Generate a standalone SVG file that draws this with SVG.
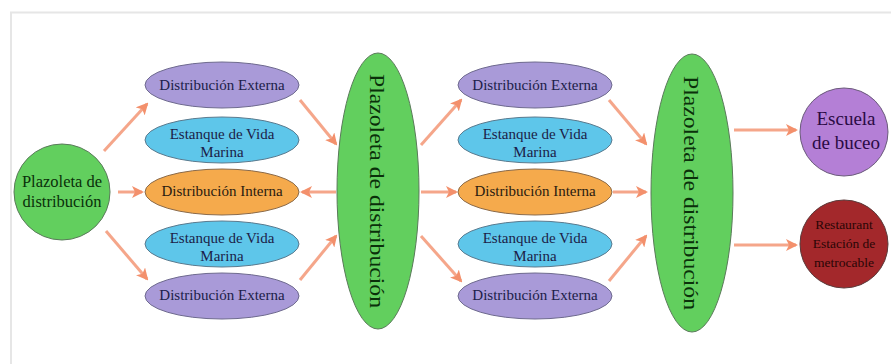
<svg xmlns="http://www.w3.org/2000/svg" width="891" height="364" viewBox="0 0 891 364">
<defs>
<marker id="ah" viewBox="0 0 12 12" refX="10" refY="6" markerWidth="12" markerHeight="12" markerUnits="userSpaceOnUse" orient="auto">
<path d="M0,0 L12,6 L0,12 L3,6 Z" fill="#f3906c"/>
</marker>
<style>
.frame{fill:none;stroke:#e6e6e6;stroke-width:2}
.con{stroke:#f5a68a;stroke-width:3;fill:none;marker-end:url(#ah)}
.t{font-family:"Liberation Serif","Times New Roman",serif;text-anchor:middle}
.pur{fill:#a99ad8;stroke:#6e6a8e;stroke-width:1}
.blu{fill:#5ec6ea;stroke:#5a7a8e;stroke-width:1}
.org{fill:#f5aa4c;stroke:#8a6a4a;stroke-width:1}
.grn{fill:#62cf5e;stroke:#5a7a5a;stroke-width:1}
.tn{fill:#1c1d48;font-size:15px}
.tb{fill:#2a1a10;font-size:15px}
.tg{fill:#0a300a}
</style>
</defs>
<rect width="891" height="364" fill="#ffffff"/>
<path class="frame" d="M11,364 V12.5 H891"/>
<g id="connectors">
<line class="con" x1="104" y1="151" x2="147" y2="104"/>
<line class="con" x1="118" y1="192" x2="142" y2="192"/>
<line class="con" x1="106" y1="231" x2="147" y2="279"/>
<line class="con" x1="300" y1="100" x2="336" y2="144"/>
<line class="con" x1="336" y1="192" x2="302" y2="192"/>
<line class="con" x1="300" y1="280" x2="336" y2="236"/>
<line class="con" x1="421" y1="145" x2="461" y2="100"/>
<line class="con" x1="421" y1="192" x2="456" y2="192"/>
<line class="con" x1="421" y1="236" x2="461" y2="281"/>
<line class="con" x1="609" y1="100" x2="646" y2="144"/>
<line class="con" x1="613" y1="192" x2="646" y2="192"/>
<line class="con" x1="609" y1="281" x2="646" y2="236"/>
<line class="con" x1="734" y1="130" x2="796" y2="130"/>
<line class="con" x1="734" y1="245" x2="796" y2="245"/>
</g>
<g id="n_plazoleta_izq">
<circle class="grn" cx="62" cy="192" r="48"/>
<text class="t tg" x="62" y="187" font-size="16.5">Plazoleta de</text>
<text class="t tg" x="62" y="207" font-size="16.5">distribución</text>
</g>
<g id="n_ext1">
<ellipse class="pur" cx="222" cy="85" rx="77" ry="23"/>
<text class="t tn" x="222" y="90">Distribución Externa</text>
</g>
<g id="n_est1">
<ellipse class="blu" cx="222" cy="140" rx="77" ry="23"/>
<text class="t tn" x="222" y="139">Estanque de Vida</text>
<text class="t tn" x="222" y="157">Marina</text>
</g>
<g id="n_int1">
<ellipse class="org" cx="222" cy="192" rx="77" ry="23"/>
<text class="t tb" x="222" y="196">Distribución Interna</text>
</g>
<g id="n_est2">
<ellipse class="blu" cx="222" cy="244" rx="77" ry="23"/>
<text class="t tn" x="222" y="243">Estanque de Vida</text>
<text class="t tn" x="222" y="261">Marina</text>
</g>
<g id="n_ext2">
<ellipse class="pur" cx="222" cy="296" rx="77" ry="23"/>
<text class="t tn" x="222" y="300">Distribución Externa</text>
</g>
<g id="n_plazoleta_centro">
<ellipse class="grn" cx="378" cy="191" rx="41" ry="138"/>
<text class="t tg" transform="translate(378,191) rotate(90)" x="0" y="8" font-size="22" textLength="234" lengthAdjust="spacingAndGlyphs">Plazoleta de distribución</text>
</g>
<g id="n_ext3">
<ellipse class="pur" cx="535" cy="85" rx="77" ry="23"/>
<text class="t tn" x="535" y="90">Distribución Externa</text>
</g>
<g id="n_est3">
<ellipse class="blu" cx="535" cy="140" rx="77" ry="23"/>
<text class="t tn" x="535" y="139">Estanque de Vida</text>
<text class="t tn" x="535" y="157">Marina</text>
</g>
<g id="n_int2">
<ellipse class="org" cx="535" cy="192" rx="77" ry="23"/>
<text class="t tb" x="535" y="196">Distribución Interna</text>
</g>
<g id="n_est4">
<ellipse class="blu" cx="535" cy="244" rx="77" ry="23"/>
<text class="t tn" x="535" y="243">Estanque de Vida</text>
<text class="t tn" x="535" y="261">Marina</text>
</g>
<g id="n_ext4">
<ellipse class="pur" cx="535" cy="296" rx="77" ry="23"/>
<text class="t tn" x="535" y="300">Distribución Externa</text>
</g>
<g id="n_plazoleta_der">
<ellipse class="grn" cx="692" cy="193" rx="41" ry="139"/>
<text class="t tg" transform="translate(692,193) rotate(90)" x="0" y="8" font-size="22" textLength="234" lengthAdjust="spacingAndGlyphs">Plazoleta de distribución</text>
</g>
<g id="n_escuela">
<circle cx="844" cy="132" r="44" fill="#b47fd6" stroke="#6a5a7a" stroke-width="1"/>
<text class="t" x="846" y="125" font-size="19" fill="#2a0a44">Escuela</text>
<text class="t" x="846" y="149" font-size="19" fill="#2a0a44">de buceo</text>
</g>
<g id="n_restaurant">
<circle cx="844" cy="244" r="44" fill="#a3282b" stroke="#5a3a3a" stroke-width="1"/>
<text class="t" x="844" y="229" font-size="13.5" fill="#2a0606">Restaurant</text>
<text class="t" x="844" y="248" font-size="13.5" fill="#2a0606">Estación de</text>
<text class="t" x="844" y="267" font-size="13.5" fill="#2a0606">metrocable</text>
</g>
</svg>
